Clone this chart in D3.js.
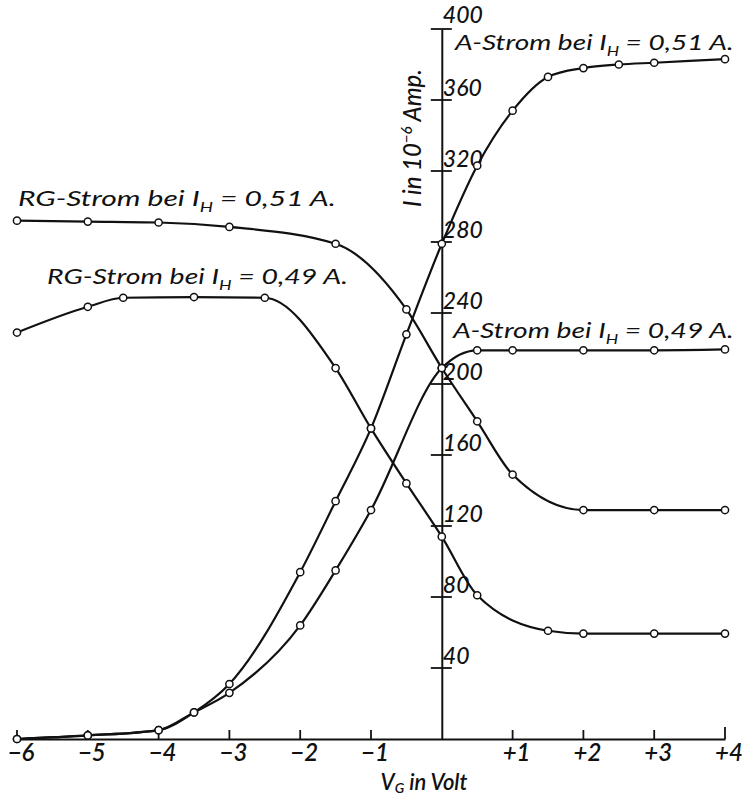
<!DOCTYPE html>
<html>
<head>
<meta charset="utf-8">
<script src="https://cdn.jsdelivr.net/npm/d3@7/dist/d3.min.js"></script>
<style>
  html, body { margin: 0; padding: 0; background: #fff; }
  svg { display: block; }
  text { font-family: "Lato", "Liberation Sans", sans-serif; font-style: italic; fill: #111; }
</style>
</head>
<body>
<svg id="chart" width="742" height="798"></svg>
<script>
// ---- data ----
const xTicks = [-6, -5, -4, -3, -2, -1, 1, 2, 3, 4];
const xTickLabels = ["−6", "−5", "−4", "−3", "−2", "−1", "+1", "+2", "+3", "+4"];
const yTicks = [40, 80, 120, 160, 200, 240, 280, 320, 360, 400];
const yTickLabels = ["40", "80", "120", "160", "200", "240", "280", "320", "360", "400"];

// A-Strom bei I_H = 0,51 A.
const vgA51 = [-6, -5, -4, -3.5, -3, -2, -1.5, -1, -0.5, 0, 0.5, 1, 1.5, 2, 2.5, 3, 4];
const iA51  = [0, 2, 5, 15, 31, 94, 134, 175, 228, 279, 323, 354, 373, 378, 380, 381, 383];
// A-Strom bei I_H = 0,49 A.
const vgA49 = [-6, -5, -4, -3.5, -3, -2, -1.5, -1, 0, 0.5, 1, 2, 3, 4];
const iA49  = [0, 2, 5, 15, 26, 64, 95, 129, 209, 219, 219, 219, 219, 219.5];
// RG-Strom bei I_H = 0,51 A.
const vgRG51 = [-6, -5, -4, -3, -1.5, -0.5, 0, 0.5, 1, 2, 3, 4];
const iRG51  = [292, 291.5, 291, 288.5, 279, 242, 209, 179, 149, 129, 129, 129];
// RG-Strom bei I_H = 0,49 A.
const vgRG49 = [-6, -5, -4.5, -3.5, -2.5, -1.5, -1, -0.5, 0, 0.5, 1.5, 2, 3, 4];
const iRG49  = [229, 243.5, 248.6, 249, 248.6, 209, 175, 144, 114, 81, 61, 59.4, 59.4, 59.4];

const seriesNames = ["A51", "A49", "RG51", "RG49"];

// ---- layout ----
const svg = d3.select("#chart");
const x = d3.scaleLinear().domain([-6, 4]).range([17, 725]);
const y = d3.scaleLinear().domain([0, 400]).range([739, 29]);
const x0 = x(0);

const series = [
  { name: seriesNames[0], xs: vgA51, ys: iA51 },
  { name: seriesNames[1], xs: vgA49, ys: iA49 },
  { name: seriesNames[2], xs: vgRG51, ys: iRG51 },
  { name: seriesNames[3], xs: vgRG49, ys: iRG49 }
];

// x axis
const xAxis = d3.axisBottom(x).tickValues(xTicks).tickSize(0).tickFormat(() => "");
const gx = svg.append("g").attr("transform", `translate(0,${y(0)})`).call(xAxis);
gx.select(".domain").attr("stroke", "#111").attr("stroke-width", 2);
svg.append("g").selectAll("line").data(xTicks).join("line")
  .attr("x1", d => x(d)).attr("x2", d => x(d))
  .attr("y1", y(0)).attr("y2", d => y(0) - (d === 4 ? 12 : 9))
  .attr("stroke", "#111").attr("stroke-width", 1.8);
svg.append("g").selectAll("text").data(xTicks).join("text")
  .attr("x", d => x(d) + 4).attr("y", 761)
  .attr("text-anchor", "middle")
  .style("font-size", "24px").style("font-weight", "600")
  .text((d, i) => xTickLabels[i]);

// y axis
const yAxis = d3.axisLeft(y).tickValues(yTicks).tickSize(0).tickFormat(() => "");
const gy = svg.append("g").attr("transform", `translate(${x0},0)`).call(yAxis);
gy.select(".domain").attr("stroke", "#111").attr("stroke-width", 2);
svg.append("g").selectAll("line").data(yTicks).join("line")
  .attr("x1", x0 - 11).attr("x2", x0 + 10)
  .attr("y1", d => y(d)).attr("y2", d => y(d))
  .attr("stroke", "#111").attr("stroke-width", 1.8);
svg.append("g").selectAll("text").data(yTicks).join("text")
  .attr("x", x0 + 1).attr("y", d => y(d) - (d === 400 ? 6 : 4))
  .style("font-size", "23px").style("font-weight", "500")
  .text((d, i) => yTickLabels[i]);

// curves
const line = d3.line().x(d => x(d[0])).y(d => y(d[1])).curve(d3.curveMonotoneX);
series.forEach(s => {
  const pts = s.xs.map((v, i) => [v, s.ys[i]]);
  svg.append("path").datum(pts)
    .attr("d", line).attr("fill", "none")
    .attr("stroke", "#111").attr("stroke-width", 2.2);
});
series.forEach(s => {
  const pts = s.xs.map((v, i) => [v, s.ys[i]]);
  svg.append("g").selectAll("circle").data(pts).join("circle")
    .attr("cx", d => x(d[0])).attr("cy", d => y(d[1])).attr("r", 3.6)
    .attr("fill", "#fff").attr("stroke", "#111").attr("stroke-width", 1.5);
});

// helper: label with subscript, fitted to a width
function subLabel(pre, sub, post, px, py, size, width) {
  const t = svg.append("text").attr("x", px).attr("y", py).style("font-size", size + "px");
  t.append("tspan").text(pre);
  t.append("tspan").attr("dy", size * 0.28).style("font-size", (size * 0.62) + "px").text(sub);
  t.append("tspan").attr("dy", -size * 0.28).text(post);
  const w = t.node().getBBox().width;
  const s = width / w;
  t.attr("transform", `translate(${px},0) scale(${s},1) translate(${-px},0)`);
  return t;
}
subLabel("A-Strom bei I", "H", " = 0,51 A.", 455, 50, 22, 280);
subLabel("RG-Strom bei I", "H", " = 0,51 A.", 18, 206, 22, 318);
subLabel("RG-Strom bei I", "H", " = 0,49 A.", 47, 284, 22, 301);
subLabel("A-Strom bei I", "H", " = 0,49 A.", 453, 338, 22, 282);

// axis titles
const xt = svg.append("text").attr("x", 424).attr("y", 790).attr("text-anchor", "middle")
  .style("font-size", "22px").style("font-weight", "600");
xt.append("tspan").text("V");
xt.append("tspan").attr("dy", 3).style("font-size", "14px").text("G");
xt.append("tspan").attr("dy", -3).text(" in Volt");

const yt = svg.append("text").attr("transform", "translate(421,138) rotate(-90)")
  .attr("text-anchor", "middle").style("font-size", "24px").style("font-weight", "500");
yt.append("tspan").text("I in 10");
yt.append("tspan").attr("dy", -9).style("font-size", "15px").text("−6");
yt.append("tspan").attr("dy", 9).text(" Amp.");
</script>
</body>
</html>
